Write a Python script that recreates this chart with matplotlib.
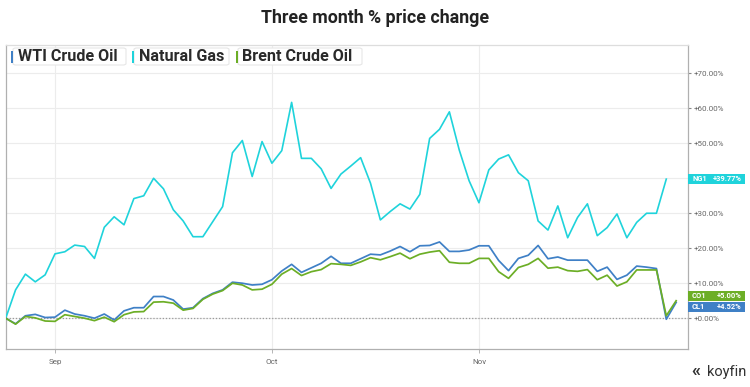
import matplotlib
matplotlib.use("Agg")
import matplotlib.pyplot as plt
import matplotlib.transforms as mtrans
from matplotlib.patches import Rectangle, FancyBboxPatch

plt.rcParams['font.family'] = ['Roboto', 'DejaVu Sans']

# ---- data (% change, one value per trading day) ----
wti = [0, -1.6, 0.7, 1.1, 0.2, 0.3, 2.3, 1.2, 0.7, 0, 1.2, -0.5, 2.1, 3.0, 3.0, 6.2, 6.2, 5.2,
       2.6, 3.0, 5.6, 7.1, 8.1, 10.3, 10.0, 9.5, 9.7, 11.0, 13.5, 15.4, 13.1, 14.4, 15.7, 17.7,
       15.7, 15.7, 17.0, 18.3, 18.1, 19.2, 20.5, 19.0, 20.7, 20.8, 21.8, 19.1, 19.1, 19.5, 20.7,
       20.7, 16.5, 13.6, 17.1, 18.0, 20.8, 17.0, 17.5, 16.6, 16.6, 16.6, 13.4, 14.6, 11.1, 12.3,
       14.9, 14.6, 14.2, -0.3, 4.52]
brent = [0, -1.7, 0.5, 0.1, -0.8, -0.9, 1.0, 0.5, 0, -0.7, 0.3, -1.0, 1.0, 1.8, 1.9, 4.6, 4.7, 4.3,
         2.3, 2.8, 5.4, 6.9, 7.9, 10.0, 9.5, 8.1, 8.3, 9.7, 12.6, 14.2, 12.2, 13.3, 13.9, 15.6,
         15.4, 15.1, 16.1, 17.3, 16.7, 17.6, 18.6, 17.0, 18.3, 18.9, 19.3, 16.0, 15.7, 15.7, 17.1,
         17.1, 13.3, 11.4, 14.5, 15.4, 17.1, 14.3, 14.6, 13.6, 13.4, 13.9, 11.0, 12.3, 9.2, 10.4,
         13.8, 13.8, 13.8, 0.7, 5.00]
natgas = [0, 8.1, 12.6, 10.4, 12.4, 18.4, 19.0, 20.9, 20.5, 17.1, 26.0, 29.0, 26.7, 34.2, 35.0,
          40.0, 37.0, 31.0, 27.8, 23.3, 23.3, 27.6, 31.9, 47.3, 50.8, 40.5, 50.5, 44.3, 47.9, 61.7,
          45.7, 45.7, 42.7, 37.1, 41.2, 43.5, 45.9, 38.6, 28.1, 30.5, 32.7, 31.2, 35.4, 51.4, 54.0,
          59.0, 48.1, 39.3, 33.0, 42.4, 45.5, 46.7, 41.6, 39.3, 27.8, 25.2, 32.1, 23.0, 28.8, 32.7,
          23.6, 25.9, 29.8, 23.0, 27.4, 30.0, 30.0, 39.77]
series_names = ["WTI Crude Oil", "Natural Gas", "Brent Crude Oil"]
tag_names = ["CL1", "NG1", "CO1"]
month_ticks = [5, 27, 48]
month_labels = ["Sep", "Oct", "Nov"]
y_ticks = [0, 10, 20, 30, 40, 50, 60, 70]

c_wti = "#3f80c6"
c_ng = "#1fd3db"
c_brent = "#6cae26"

fig = plt.figure(figsize=(7.5, 3.87), dpi=100)
ax = fig.add_axes([0.0076, 0.0982, 0.9097, 0.7855])

ax.set_xlim(0, 69.2)
ax.set_ylim(-8.8, 78.1)

ax.plot(range(len(natgas)), natgas, color=c_ng, lw=1.2, zorder=3)
ax.plot(range(len(wti)), wti, color=c_wti, lw=1.25, zorder=4)
ax.plot(range(len(brent)), brent, color=c_brent, lw=1.25, zorder=5)

ax.axhline(0, color="#9a9a9a", lw=0.9, ls=(0, (1, 1.5)), zorder=2)

# grid
ax.set_yticks(y_ticks)
ax.set_xticks(month_ticks)
ax.grid(True, color="#ececec", lw=0.8, zorder=0)
ax.yaxis.tick_right()
# the +40.00% label sits under the NG1 tag in the original, so it is not shown
ax.set_yticklabels(["" if v == 40 else "+%.2f%%" % v for v in y_ticks])
ax.set_xticklabels(month_labels)
ax.tick_params(axis='y', length=2, width=0.8, color="#888888", labelsize=5.8,
               labelcolor="#666666", pad=2)
ax.tick_params(axis='x', length=3, width=0.6, color="#aaaaaa", labelsize=5.8,
               labelcolor="#666666", pad=4)
for s in ax.spines.values():
    s.set_color("#b0b0b0")
    s.set_linewidth(0.9)
ax.spines['top'].set_color("#dddddd")

# right-side value tags
trans = mtrans.blended_transform_factory(ax.transAxes, ax.transData)
h = 10 / 3.5
tags = [(tag_names[1], natgas[-1], c_ng, 0.0),
        (tag_names[2], brent[-1], c_brent, 1.4),
        (tag_names[0], wti[-1], c_wti, -1.45)]
for name, val, col, off in tags:
    yc = val + off
    r = Rectangle((1.0, yc - h / 2), 0.0836, h, transform=trans, clip_on=False,
                  facecolor=col, edgecolor='none', zorder=10)
    ax.add_patch(r)
    ax.text(1.006, yc, name, transform=trans, color="white", fontsize=5.4,
            fontweight='bold', va='center', ha='left', zorder=11, clip_on=False)
    ax.text(1.079, yc, "+%.2f%%" % val, transform=trans, color="white", fontsize=5.4,
            fontweight='bold', va='center', ha='right', zorder=11, clip_on=False)

# title
fig.text(0.5, 0.953, "Three month % price change", ha='center', va='center',
         fontsize=12.8, fontweight='bold', color="#222222")

# legend
legend_items = [(series_names[0], c_wti, 11, 18, 126),
                (series_names[1], c_ng, 132, 139, 229),
                (series_names[2], c_brent, 236, 242, 362)]
W, H = 750.0, 387.0
for name, col, xb, xt, x1 in legend_items:
    box = FancyBboxPatch(((xb + 2) / W, 1 - 65 / H), (x1 - xb - 2) / W, 17 / H,
                         boxstyle="round,pad=0,rounding_size=0.004",
                         transform=fig.transFigure, facecolor="white",
                         edgecolor="#e6e6e6", lw=0.8, zorder=20)
    fig.patches.append(box)
    bar = Rectangle((xb / W, 1 - 63 / H), 2 / W, 12 / H, transform=fig.transFigure,
                    facecolor=col, edgecolor='none', zorder=21)
    fig.patches.append(bar)
    fig.text(xt / W, 1 - 56.5 / H, name, fontsize=11.6, fontweight='bold',
             color="#2a2a2a", va='center', ha='left', zorder=22)

# brand
fig.text(0.995, 1 - 372 / H, "koyfin", ha='right', va='center', fontsize=10.5,
         color="#333333")
fig.text(0.934, 1 - 371 / H, "«", ha='right', va='center', fontsize=13,
         color="#333333", fontweight='bold')

fig.savefig("out.png", dpi=100, facecolor="white")
